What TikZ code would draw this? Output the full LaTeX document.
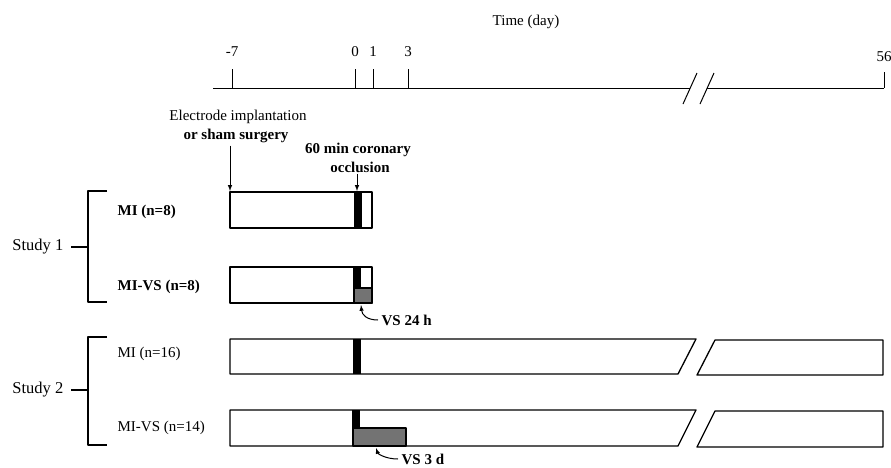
\documentclass[tikz,border=0pt]{standalone}
\usepackage{fontspec}
\setmainfont{Liberation Serif}
\usepackage{xcolor}
\definecolor{vsgray}{RGB}{115,115,115}
\usepackage{tikz}

\begin{document}
\begin{tikzpicture}[x=1pt, y=-1pt, >=latex, line width=1.3pt, line join=round,
  every node/.style={font=\fontsize{15}{17}\selectfont, inner sep=0pt},
  bold/.style={font=\fontsize{15}{17}\selectfont\bfseries},
  study/.style={font=\fontsize{16.5}{18}\selectfont, anchor=east}]
  \useasboundingbox (0,0) rectangle (891,467);

  % time axis
  \node (time) at (526,22) {Time (day)};
  \draw[line width=1pt] (213,88) -- (690,88);
  \draw[line width=1pt] (707,88) -- (884,88);
  \draw[line width=1pt] (683,104) -- (697,73);
  \draw[line width=1pt] (700,104) -- (714,73);
  \foreach \x/\d in {232/-7, 355/0, 373/1, 408/3}
    \draw[line width=1pt] (\x,88) -- (\x,69) node[above=12pt] (tick\d) {\d};
  \draw[line width=1pt] (884,88) -- (884,72) node[above=10pt] (tick56) {56};

  % events
  \node (implant) at (238,117) {Electrode implantation};
  \node[bold] (sham) at (236,136) {or sham surgery};
  \node[bold] (occl) at (358,150) {60 min coronary};
  \node[bold] (occl2) at (360,167) {occlusion};
  \coordinate (surgery) at (230,191);
  \coordinate (occlusion) at (357,191);
  \draw[->, line width=1pt] ([yshift=-2pt]sham.south -| surgery) -- (surgery);
  \draw[->, line width=1pt] ([yshift=-1pt]occl2.south -| occlusion) -- (occlusion);

  % study 1
  \node[study] (study1) at (64,247) {Study 1};
  \draw (107,191) -- (88,191) -- (88,302) -- (107,302);
  \draw ([xshift=7pt]study1.east) -- (88,247);
  \node[bold, anchor=west] (mi8) at (117,212) {MI (n=8)};
  \node[bold, anchor=west] (mivs8) at (117,287) {MI-VS (n=8)};

  \draw (230,192) rectangle (372,228);
  \fill (354,192) rectangle (362,228);

  \draw (230,267) rectangle (372,303);
  \fill (353,267) rectangle (361,288);
  \filldraw[fill=vsgray] (354,288) rectangle (372,303);
  \node[bold, anchor=west] (vs24) at (381,320) {VS 24 h};
  \coordinate (vs24end) at (361,305);
  \draw[->, line width=1pt] ([xshift=-3pt]vs24.west) .. controls (367,320) and (362,315) .. (vs24end);

  % study 2
  \node[study] (study2) at (64,390) {Study 2};
  \draw (107,337) -- (88,337) -- (88,445) -- (107,445);
  \draw ([xshift=7pt]study2.east) -- (88,390);
  \node[anchor=west] (mi16) at (117,354) {MI (n=16)};
  \node[anchor=west] (mivs14) at (117,428) {MI-VS (n=14)};

  \draw (230,339) -- (696,339) -- (678,374) -- (230,374) -- cycle;
  \draw (715,340) -- (883,340) -- (883,375) -- (697,375) -- cycle;
  \fill (353,339) rectangle (361,374);

  \draw (230,410) -- (696,410) -- (678,446) -- (230,446) -- cycle;
  \draw (715,411) -- (883,411) -- (883,447) -- (697,447) -- cycle;
  \fill (352,410) rectangle (360,428);
  \filldraw[fill=vsgray] (353,428) rectangle (406,446);
  \node[bold, anchor=west] (vs3) at (401,459) {VS 3 d};
  \coordinate (vs3end) at (376,448);
  \draw[->, line width=1pt] ([xshift=-3pt]vs3.west) .. controls (386,459) and (378,454) .. (vs3end);
\end{tikzpicture}
\end{document}
